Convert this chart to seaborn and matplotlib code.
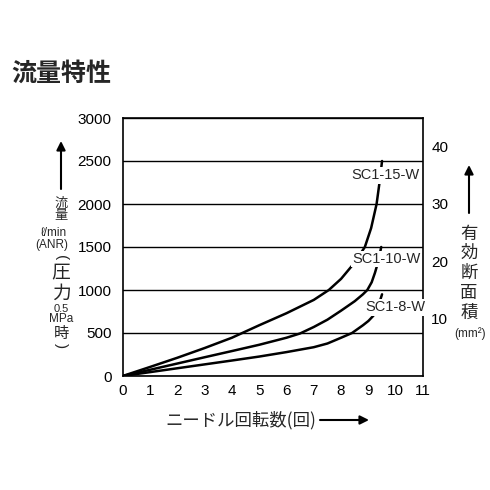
import matplotlib
matplotlib.use("Agg")
import matplotlib.pyplot as plt
import seaborn as sns
import pandas as pd
import numpy as np

# ---------------- data ----------------
title = "流量特性"
xlabel = "ニードル回転数(回)"
models = ["SC1-15-W", "SC1-10-W", "SC1-8-W"]

s15_x = [0, 1, 2, 3, 4, 5, 6, 7, 7.55, 8, 8.5, 8.87, 9.1, 9.3, 9.42, 9.5]
s15_y = [0, 105, 212, 325, 445, 590, 730, 885, 1000, 1130, 1320, 1500, 1720, 2000, 2280, 2500]

s10_x = [0, 1, 2, 3, 4, 5, 6, 6.5, 7, 7.5, 8, 8.5, 8.8, 8.96, 9.12, 9.24, 9.36, 9.47]
s10_y = [0, 72, 145, 218, 290, 363, 445, 495, 570, 655, 760, 870, 950, 1000, 1090, 1200, 1330, 1500]

s8_x = [0, 1, 2, 3, 4, 5, 6, 7, 7.5, 8, 8.4, 8.8, 9.0, 9.18, 9.35, 9.5]
s8_y = [0, 45, 90, 135, 180, 226, 278, 335, 378, 445, 500, 590, 640, 700, 800, 950]

label_x = [9.63, 9.65, 10.0]
label_y = [2336, 1360, 797]

left_ticks = [0, 500, 1000, 1500, 2000, 2500, 3000]
right_ticks = [10, 20, 30, 40]
x_ticks = list(range(0, 12))

# --------------- figure ---------------
sns.set_theme(style="white")
plt.rcParams['font.family'] = ['Liberation Sans', 'Noto Sans CJK JP', 'DejaVu Sans']

W = H = 490
fig = plt.figure(figsize=(4.9, 4.9), dpi=100)
ax = fig.add_axes([122.7 / W, 1 - 376 / H, (423 - 122.7) / W, (376 - 118) / H])

df = pd.concat([
    pd.DataFrame({"x": s15_x, "y": s15_y, "model": models[0]}),
    pd.DataFrame({"x": s10_x, "y": s10_y, "model": models[1]}),
    pd.DataFrame({"x": s8_x, "y": s8_y, "model": models[2]}),
])
for m in models:
    sub = df[df.model == m]
    sns.lineplot(data=sub, x="x", y="y", ax=ax, color="black", lw=1.8,
                 sort=False, estimator=None, legend=False, zorder=3)

ax.set_xlim(0, 11)
ax.set_ylim(0, 3000)
ax.set_xticks(x_ticks)
ax.set_yticks(left_ticks)
ax.set_xlabel("")
ax.set_ylabel("")
for s in ax.spines.values():
    s.set_color("black")
    s.set_linewidth(1.2)
ax.yaxis.grid(True, color="black", lw=1.0)
ax.xaxis.grid(False)
ax.tick_params(axis="x", direction="in", length=4, width=1, color="black",
               labelsize=11, pad=6, labelcolor="black")
ax.tick_params(axis="y", length=0, labelsize=11, pad=8, labelcolor="black")

for name, lx, ly in zip(models, label_x, label_y):
    ax.text(lx, ly, name, ha="center", va="center", fontsize=10.5,
            bbox=dict(facecolor="white", edgecolor="none", pad=1.0), zorder=4)

ax2 = ax.twinx()
ax2.set_ylim(0, 45)
ax2.set_yticks(right_ticks)
ax2.tick_params(axis="y", length=0, labelsize=11, pad=6, labelcolor="black")
ax2.grid(False)
for s in ax2.spines.values():
    s.set_visible(False)


def ft(x, y, s, size, **kw):
    fig.text(x / W, 1 - y / H, s, ha="center", va="center", fontsize=size,
             family=['Noto Sans CJK JP', 'DejaVu Sans'], **kw)


def lt(x, y, s, size, **kw):
    fig.text(x / W, 1 - y / H, s, ha="center", va="center", fontsize=size,
             family=['Liberation Sans', 'DejaVu Sans'], **kw)


def arrow(x0, y0, x1, y1):
    ax.annotate("", xy=(x1 / W, 1 - y1 / H), xytext=(x0 / W, 1 - y0 / H),
                xycoords="figure fraction", textcoords="figure fraction",
                arrowprops=dict(arrowstyle="-|>", lw=1.5, color="black",
                                mutation_scale=13, shrinkA=0, shrinkB=0))


# title
ft(61, 74, title, 18, weight="bold")

# left axis label (vertical)
arrow(61, 189, 61, 141)
ft(61, 203.5, "流", 9.5)
ft(61, 216, "量", 9.5)
lt(54, 233, "ℓ/min", 8.5)
lt(52, 245, "(ANR)", 8.5)
lt(61, 258, "(", 11, rotation=-90)
ft(61, 273, "圧", 13.5)
ft(61, 293, "力", 13.5)
lt(61, 308.5, "0.5", 8)
lt(61.5, 318.5, "MPa", 8.5)
ft(61, 333.5, "時", 11)
lt(61, 346, ")", 11, rotation=-90)

# right axis label (vertical)
arrow(469, 213, 469, 165)
for ch, yy in zip("有効断面積", [234, 253, 273, 293, 313]):
    ft(469, yy, ch, 12.5)
lt(470, 334, "(mm²)", 8.5)

# x label
ft(241, 420, xlabel, 12.5)
arrow(320, 420, 369, 420)

fig.savefig("out.png", dpi=100, facecolor="white")
